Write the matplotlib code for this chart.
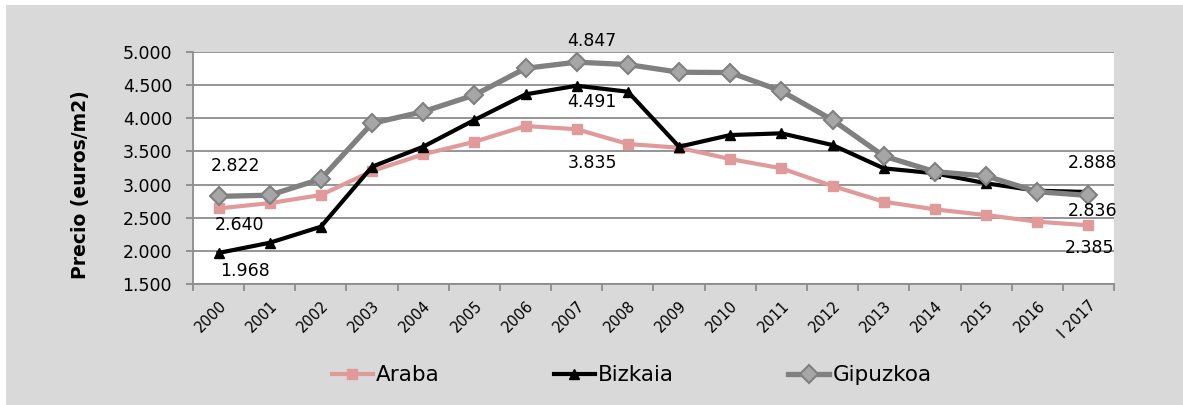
"""Precio medio de la vivienda libre (euros/m2) por territorio, 2000 - I 2017"""
import matplotlib.pyplot as plt
from matplotlib.patches import Rectangle

anios = ['2000', '2001', '2002', '2003', '2004', '2005', '2006', '2007', '2008',
         '2009', '2010', '2011', '2012', '2013', '2014', '2015', '2016', 'I 2017']

araba = [2640, 2720, 2842, 3204, 3456, 3646, 3883, 3835, 3612,
         3556, 3385, 3245, 2978, 2741, 2626, 2540, 2440, 2385]
bizkaia = [1968, 2122, 2364, 3269, 3571, 3974, 4361, 4491, 4401,
           3571, 3747, 3773, 3596, 3245, 3170, 3019, 2907, 2888]
gipuzkoa = [2822, 2840, 3084, 3924, 4100, 4351, 4754, 4847, 4810,
            4695, 4690, 4411, 3974, 3430, 3194, 3129, 2892, 2836]

# etiquetas: (serie, indice, desplazamiento en puntos)
etiquetas = [
    (gipuzkoa, 0, (12, 22)), (araba, 0, (15, -12)), (bizkaia, 0, (19, -13)),
    (gipuzkoa, 7, (11, 15)), (bizkaia, 7, (11, -12)), (araba, 7, (11, -24)),
    (bizkaia, 17, (3, 21)), (gipuzkoa, 17, (3, -11)), (araba, 17, (1, -16)),
]

fuente = 'DejaVu Sans'
plt.rcParams['font.family'] = fuente

fig = plt.figure(figsize=(11.83, 4.05), dpi=100, facecolor='white')
fig.patches.append(Rectangle((6 / 1183, 0), 1 - 6 / 1183, 1 - 5 / 405,
                             transform=fig.transFigure, facecolor='#d9d9d9',
                             edgecolor='none', zorder=-10))

ax = fig.add_axes([0.1631, 0.2988, 0.7786, 0.5728])
ax.set_facecolor('white')

x = list(range(len(anios)))
ax.plot(x, araba, color='#e09a9a', lw=3, marker='s', ms=7,
        mfc='#e09a9a', mec='#e09a9a', label='Araba', zorder=3)
ax.plot(x, bizkaia, color='black', lw=3, marker='^', ms=7,
        mfc='black', mec='black', label='Bizkaia', zorder=4)
ax.plot(x, gipuzkoa, color='#808080', lw=3.8, marker='D', ms=9.5,
        mfc='#a6a6a6', mec='#808080', mew=1.5, label='Gipuzkoa', zorder=5)

for serie, i, off in etiquetas:
    ax.annotate(f'{serie[i] / 1000:.3f}', (x[i], serie[i]), xytext=off,
                textcoords='offset points', ha='center', va='center',
                fontsize=12.5, color='black', zorder=6)

ax.set_xlim(-0.5, len(anios) - 0.5)
ax.set_ylim(1500, 5000)
ax.set_yticks(range(1500, 5001, 500))
ax.set_yticklabels([f'{v // 1000}.{v % 1000:03d}' for v in range(1500, 5001, 500)],
                   fontsize=12.5)
ax.yaxis.grid(True, color='#8c8c8c', lw=1.3)
ax.set_axisbelow(True)

ax.set_xticks(x)
ax.set_xticklabels(anios, rotation=45, ha='right', va='top',
                   rotation_mode='anchor', fontsize=10.5)
ax.set_xticks([i - 0.5 for i in range(len(anios) + 1)], minor=True)
ax.tick_params(axis='x', which='major', length=0, pad=10)
ax.tick_params(axis='x', which='minor', length=5, color='#8c8c8c', width=1.3)
ax.tick_params(axis='y', length=5, color='#8c8c8c', width=1.3, pad=10)

for lado in ['top', 'right']:
    ax.spines[lado].set_visible(False)
for lado in ['left', 'bottom']:
    ax.spines[lado].set_color('#8c8c8c')
    ax.spines[lado].set_linewidth(1.3)

ax.set_ylabel('Precio (euros/m2)', fontsize=13.5, fontweight='bold')
ax.yaxis.set_label_coords(-0.112, 0.427)

fig.legend(loc='center', bbox_to_anchor=(0.534, 0.073), ncol=3, frameon=False,
           fontsize=15.5, handlelength=1.9, handletextpad=0.15, columnspacing=5.3)

plt.savefig('out.png', dpi=100, facecolor=fig.get_facecolor())
